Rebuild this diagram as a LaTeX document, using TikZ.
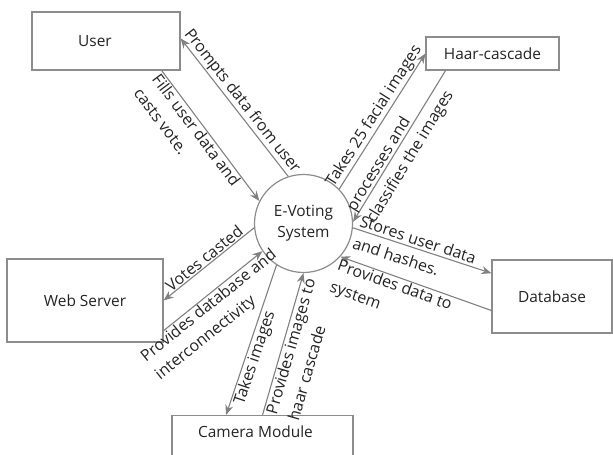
\documentclass[tikz,border=0pt]{standalone}
\usepackage{fontspec}
\setmainfont{Open Sans}
\usetikzlibrary{arrows.meta,calc}

\definecolor{linegray}{RGB}{128,128,128}
\definecolor{boxgray}{RGB}{140,140,140}
\definecolor{txtgray}{RGB}{35,35,35}

\begin{document}
\begin{tikzpicture}[
    x=1bp, y=-1bp,
    box/.style={draw=boxgray, line width=1.2bp, inner sep=0pt, align=center, text=txtgray, font=\fontsize{15.5}{18}\selectfont},
    hub/.style={circle, draw=boxgray, line width=1.2bp, minimum size=98bp, inner sep=0pt, align=center, text=txtgray, font=\fontsize{15.5}{21}\selectfont},
    arr/.style={-{Stealth[length=10bp,width=8bp]}, draw=linegray, line width=1.1bp},
    lbl/.style={sloped, inner sep=1pt, text=txtgray, align=left, font=\fontsize{16}{23}\selectfont}
]
\clip (0,0) rectangle (613,455);
\node[hub] (evs) at (303.5,223.5) {E-Voting\\System};
\node[box, minimum width=148bp, minimum height=58bp] (user) at (106,41) {User\hspace{22bp}};
\node[box, minimum width=133bp, minimum height=33bp] (haar) at (492.5,53.5) {Haar-cascade};
\node[box, minimum width=120bp, minimum height=73bp] (db) at (552,296.5) {Database};
\node[box, minimum width=156bp, minimum height=83bp] (web) at (85,300.5) {Web Server};
\node[box, minimum width=181bp, anchor=north, text height=22bp, text depth=40bp] (cam) at (262.5,415) {Camera Module\hspace{14bp}};
% flows between the system and its parts
\draw[arr] (evs.108) -- node[lbl, above] {Prompts data from user} (user.2);
\draw[arr] (user.-28) -- node[lbl, below, pos=0.42] {Fills user data and\\casts vote.} (evs.153);
\draw[arr] (evs.44) -- node[lbl, above] {Takes 25 facial images} (haar.west);
\draw[arr] (haar.200) -- node[lbl, below=-17bp, pos=0.52] {processes and\\classifies the images} (evs.2);
\draw[arr] (evs.-5) -- node[lbl, below=-17bp, pos=0.45] {Stores user data\\and hashes.} (db.159);
\draw[arr] (db.193) -- node[lbl, below, pos=0.62] {Provides data to\\system} (evs.-42);
\draw[arr] (evs.185) -- node[lbl, above] {Votes casted} (web.east);
\draw[arr] (web.-21) -- node[lbl, below, pos=0.4] {Provides database and\\interconnectivity} (evs.214);
\draw[arr] (evs.237) -- node[lbl, below, pos=0.6] {Takes images} ($(cam.north west)!0.3!(cam.north east)$);
\draw[arr] (cam.north) -- node[lbl, below] {Provides images to\\haar cascade} (evs.270);
\end{tikzpicture}
\end{document}
